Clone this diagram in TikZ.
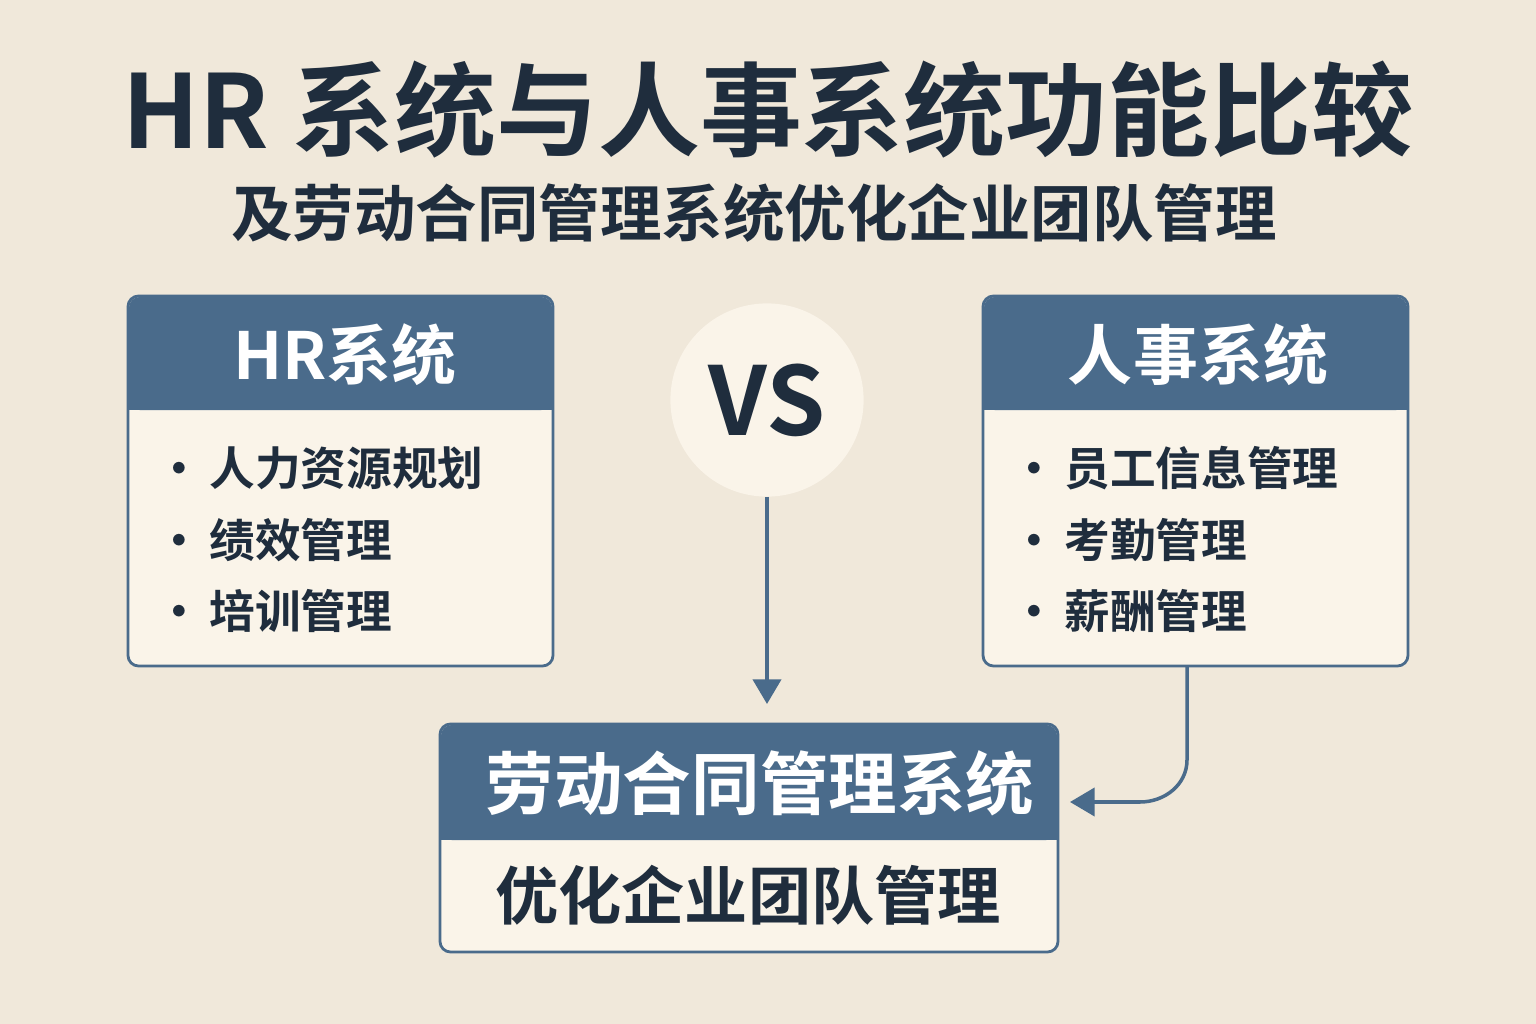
\documentclass[tikz,border=0pt]{standalone}
\usepackage{fontspec}
\setmainfont{Noto Sans CJK SC}
\newfontfamily\heavy{Noto Sans CJK SC Bold}
\usetikzlibrary{arrows.meta}
\definecolor{paper}{HTML}{F0E8DA}
\definecolor{ink}{HTML}{1F2D3D}
\definecolor{slate}{HTML}{4A6B8B}
\definecolor{card}{HTML}{FAF4E9}
\tikzset{
  cardbox/.style={draw=slate, line width=1.6pt, fill=card, rounded corners=6pt},
  headbar/.style={fill=slate, rounded corners=6pt},
  headtext/.style={text=white, font=\heavy\fontsize{37}{40}\selectfont},
  item/.style={anchor=west, text=ink, font=\heavy\fontsize{26}{29}\selectfont},
  link/.style={draw=slate, line width=2pt, -{Triangle[length=14pt,width=16pt]}}
}
\begin{document}
\begin{tikzpicture}[x=0.02cm, y=-0.02cm]
  \fill[paper] (0,0) rectangle (1536,1024);
  \useasboundingbox (0,0) rectangle (1536,1024);
  % titles
  \node (title) at (768,110) [text=ink, font=\heavy\fontsize{58}{62}\selectfont] {HR 系统与人事系统功能比较};
  \node (subtitle) at (754,213) [text=ink, font=\heavy\fontsize{35}{38}\selectfont] {及劳动合同管理系统优化企业团队管理};
  % left card
  \draw[cardbox] (128,296) rectangle (553,666);
  \fill[headbar] (129,297) rectangle (552,410);
  \fill[slate] (129,380) rectangle (552,410);
  \node (hrhead) at (345,355) [headtext] {HR系统};
  \foreach \y/\t in {468/人力资源规划, 540/绩效管理, 611/培训管理}
    \node at (150,\y) [item] {•\,\t};
  % right card
  \draw[cardbox] (983,296) rectangle (1408,666);
  \fill[headbar] (984,297) rectangle (1407,410);
  \fill[slate] (984,380) rectangle (1407,410);
  \node (pshead) at (1198,355) [headtext] {人事系统};
  \foreach \y/\t in {468/员工信息管理, 540/考勤管理, 611/薪酬管理}
    \node at (1005,\y) [item] {•\,\t};
  \coordinate (psfoot) at (1187,666);
  % versus
  \node (vs) at (767,400) [circle, fill=card, minimum size=194pt*0.5669, inner sep=0pt,
    text=ink, font=\heavy\fontsize{54}{58}\selectfont] {VS};
  % bottom card
  \draw[cardbox] (440,724) rectangle (1058,952);
  \fill[headbar] (441,725) rectangle (1057,840);
  \fill[slate] (441,810) rectangle (1057,840);
  \node (lchead) at (760,783) [headtext, font=\heavy\fontsize{39}{42}\selectfont] {劳动合同管理系统};
  \node (lcbody) at (748,895) [text=ink, font=\heavy\fontsize{36}{40}\selectfont] {优化企业团队管理};
  \coordinate (lcin) at (767,704);
  \coordinate (lcside) at (1070,802);
  % connectors
  \draw[link] (vs.south) -- (lcin);
  \draw[link] (psfoot) -- (1187,760) to[out=-90, in=0] (1140,802) -- (lcside);
\end{tikzpicture}
\end{document}
